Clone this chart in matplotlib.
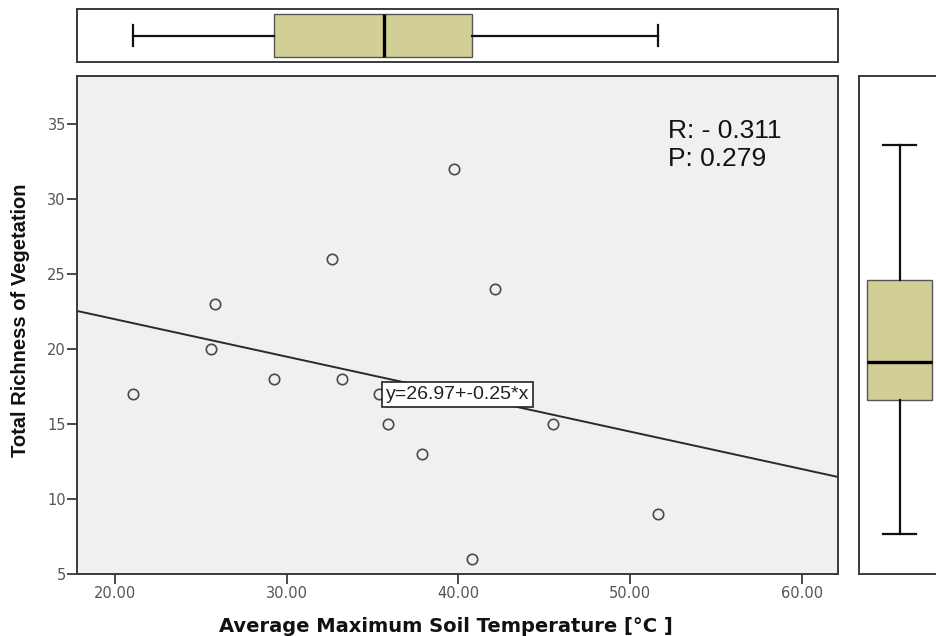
import numpy as np
import matplotlib
matplotlib.use("Agg")
import matplotlib.pyplot as plt

# ---- data ----
soil_temp = [39.76, 32.66, 42.13, 25.82, 25.57, 29.26, 33.24, 21.07, 35.40,
             35.90, 45.49, 37.86, 40.79, 51.64]
richness = [32, 26, 24, 23, 20, 18, 18, 17, 17, 15, 15, 13, 6, 9]
fit_intercept = 26.97
fit_slope = -0.25
r_text = "R: - 0.311"
p_text = "P: 0.279"
x_ticks = [20, 30, 40, 50, 60]
y_ticks = [5, 10, 15, 20, 25, 30, 35]
x_label = "Average Maximum Soil Temperature [°C ]"
y_label = "Total Richness of Vegetation"
eq_label = "y=26.97+-0.25*x"

plt.rcParams['font.family'] = ['Liberation Sans', 'DejaVu Sans']

W, H = 936, 636
fig = plt.figure(figsize=(W / 100, H / 100), dpi=100)


def px_axes(l, t, r, b):
    return fig.add_axes([l / W, 1 - b / H, (r - l) / W, (b - t) / H])


SPINE = '#3a3a3a'
BOXFILL = '#d2cf96'
TICKC = '#555555'

ax = px_axes(77, 76, 838.3, 573.5)
axt = px_axes(77, 9.3, 838.3, 61.7)
axr = px_axes(859, 76, 940, 573.5)

# ---- main scatter ----
ax.set_facecolor('#f0f0f0')
xlim = (17.79, 62.13)
ax.set_xlim(*xlim)
ax.set_ylim(5, 38.2)
ax.plot(soil_temp, richness, linestyle='none', marker='o', markersize=7.5,
        markerfacecolor='none', markeredgecolor='#4a4a4a', markeredgewidth=1.2,
        zorder=3)
xl = np.array(xlim)
ax.plot(xl, fit_intercept + fit_slope * xl, color='#2a2a2a', lw=1.4, zorder=2)
ax.text(35.76, 16.95, eq_label, ha='left', va='center', fontsize=14,
        color='#222222', zorder=5,
        bbox=dict(boxstyle='square,pad=0.2', facecolor='white',
                  edgecolor='#222222', linewidth=1.2))
ax.text(52.2, 33.6, r_text + "\n" + p_text, ha='left', va='center',
        fontsize=19, color='#111111', linespacing=1.18)

ax.set_xticks(x_ticks)
ax.set_xticklabels([f"{v:.2f}" for v in x_ticks], family='DejaVu Sans')
ax.set_yticks(y_ticks)
ax.set_yticklabels([str(v) for v in y_ticks], family='DejaVu Sans')
ax.tick_params(axis='both', direction='out', length=7, width=1.3,
               color=SPINE, labelcolor=TICKC, labelsize=10.5, pad=2)
ax.tick_params(axis='y', pad=1)
for s in ax.spines.values():
    s.set_color(SPINE)
    s.set_linewidth(1.4)


def tukey_stats(vals):
    v = np.sort(np.asarray(vals, dtype=float))
    n = len(v)
    half = (n + 1) // 2
    return dict(med=np.median(v), q1=np.median(v[:half]),
                q3=np.median(v[n - half:]), whislo=v.min(), whishi=v.max(),
                fliers=[])


box_kw = dict(patch_artist=True, widths=0.81, showfliers=False,
              boxprops=dict(facecolor=BOXFILL, edgecolor='#555555', linewidth=1.0),
              medianprops=dict(color='black', linewidth=2.4),
              whiskerprops=dict(color='#111111', linewidth=1.6),
              capprops=dict(color='#111111', linewidth=1.6))

# ---- top boxplot (x variable) ----
axt.bxp([tukey_stats(soil_temp)], positions=[0.5], orientation='horizontal', **box_kw)
axt.set_xlim(*xlim)
axt.set_ylim(0, 1)
axt.set_xticks([])
axt.set_yticks([])

# ---- right boxplot (y variable) ----
axr.bxp([tukey_stats(richness)], positions=[0.5], orientation='vertical', **box_kw)
axr.set_xlim(0, 1)
axr.set_ylim(3.39, 36.64)
axr.set_xticks([])
axr.set_yticks([])

for a in (axt, axr):
    a.set_facecolor('white')
    for s in a.spines.values():
        s.set_color(SPINE)
        s.set_linewidth(1.4)

fig.text(446 / W, 1 - 627 / H, x_label, ha='center', va='center',
         fontsize=14, fontweight='bold', color='#111111', family='DejaVu Sans')
fig.text(21 / W, 1 - 320 / H, y_label, ha='center', va='center', rotation=90,
         fontsize=14.5, fontweight='bold', color='#111111')

fig.savefig('out.png', dpi=100)
